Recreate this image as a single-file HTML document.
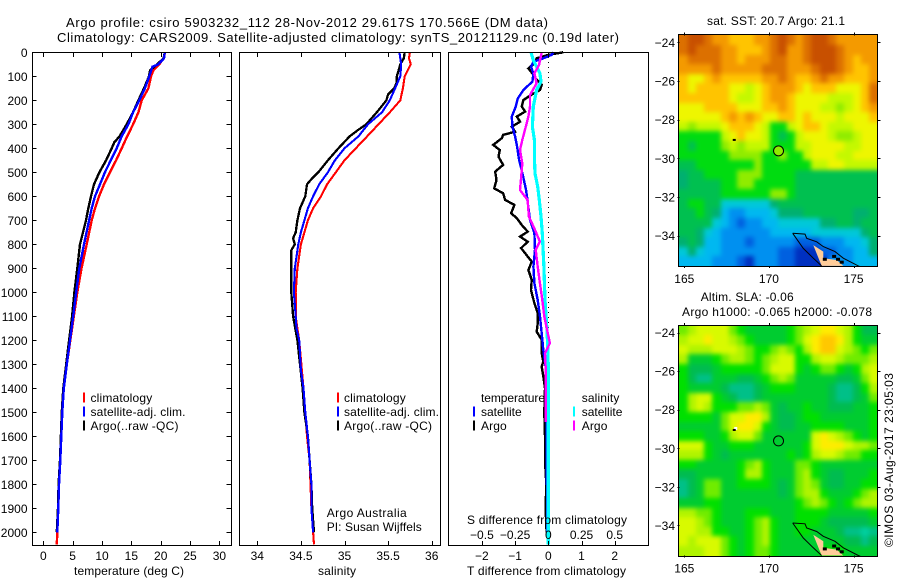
<!DOCTYPE html>
<html lang="en">
<head>
<meta charset="utf-8">
<title>Argo profile csiro 5903232_112</title>
<style>
html,body{margin:0;padding:0;background:#fff;}
svg{display:block;}
text{font-family:"Liberation Sans",sans-serif;font-size:12px;fill:#000;}
</style>
</head>
<body>
<svg id="chart" xmlns="http://www.w3.org/2000/svg" width="900" height="580" viewBox="0 0 900 580">
  <defs>
    <filter id="map-smooth" filterUnits="userSpaceOnUse" x="640" y="0" width="260" height="580" color-interpolation-filters="sRGB">
      <feGaussianBlur stdDeviation="2.4"/>
    </filter>
  </defs>
  <rect width="900" height="580" fill="#fff"/>
  <text x="66" y="27" textLength="482" style="font-size:13px">Argo profile: csiro 5903232_112 28-Nov-2012 29.617S 170.566E (DM data)</text>
  <text x="57" y="42" textLength="562" style="font-size:13px">Climatology: CARS2009. Satellite-adjusted climatology: synTS_20121129.nc (0.19d later)</text>

  <g id="p1"></g>
  <g id="p2"></g>
  <g id="p3"></g>
  <g id="m1"></g>
  <g id="m2"></g>

  <text x="74" y="575" textLength="110">temperature (deg C)</text>
  <text x="318" y="575" textLength="38">salinity</text>
  <text x="467" y="575" textLength="159">T difference from climatology</text>
  <text x="467" y="524" textLength="160">S difference from climatology</text>
  <text x="326.7" y="517" textLength="80">Argo Australia</text>
  <text x="326.7" y="531" textLength="95">PI: Susan Wijffels</text>
  <text x="707" y="25" textLength="138">sat. SST: 20.7 Argo: 21.1</text>
  <text x="700.7" y="301" textLength="93">Altim. SLA: -0.06</text>
  <text x="682" y="316" textLength="190">Argo h1000: -0.065 h2000: -0.078</text>
  <text transform="translate(893 547) rotate(-90)" textLength="174">©IMOS 03-Aug-2017 23:05:03</text>
</svg>
<script>
/* ---------- chart data ---------- */
const depthTicks = [0,100,200,300,400,500,600,700,800,900,1000,1100,1200,1300,1400,1500,1600,1700,1800,1900,2000];
const tempTicks = [0,5,10,15,20,25,30];
const salTicks = [34,34.5,35,35.5,36];
const salTickLabels = ['34','34.5','35','35.5','36'];
const dTTicks = [-2,-1,0,1,2];
const dSTicks = [-0.5,-0.25,0,0.25,0.5];
const dSTickLabels = ['−0.5','−0.25','0','0.25','0.5'];
const dTTickLabels = ['−2','−1','0','1','2'];
const lonTicks = [165,170,175];
const latTicks = [-24,-26,-28,-30,-32,-34];

const tempClimDepth = [0,25,50,75,100,150,200,250,300,350,400,450,500,550,600,650,700,800,900,1000,1100,1200,1300,1400,1500,1600,1700,1800,1900,2000,2050];
const tempClim = [20.73,20.5,19.76,18.75,18.35,17.9,16.76,16.2,15.3,14.3,13.35,12.4,11.35,10.34,9.5,8.8,8.24,7.4,6.5,5.8,5.2,4.6,4.0,3.5,3.24,3.07,2.9,2.67,2.56,2.39,2.3];
const tempSatDepth = [0,25,50,60,100,150,200,250,300,350,400,450,500,550,600,650,700,800,900,1000,1100,1200,1300,1400,1500,1600,1700,1800,1900,2000];
const tempSat = [20.7,20.56,19.6,18.6,18.06,17.3,16.35,15.3,14.5,13.35,12.5,11.5,10.5,9.66,8.8,8.24,7.8,6.93,6.14,5.6,5.1,4.55,4.0,3.5,3.24,3.07,2.9,2.67,2.56,2.39];
const tempArgoDepth = [0,25,50,75,100,150,200,250,300,350,375,400,450,500,550,600,650,700,800,900,1000,1100,1200,1300,1400,1500,1600,1700,1800,1900,2000];
const tempArgo = [20.7,20.5,19.4,18.2,18.0,17.15,16.2,15.3,14.2,13,12.1,11.65,10.7,9.55,8.63,8.13,7.67,7.27,6.25,5.8,5.3,4.9,4.4,3.9,3.4,3.15,3.0,2.85,2.6,2.5,2.3];

const salClimDepth = [0,25,50,100,150,200,250,300,350,400,450,500,550,600,650,700,750,800,900,1000,1100,1150,1200,1400,1500,1600,1700,1800,1900,2000,2050];
const salClim = [35.75,35.74,35.76,35.69,35.67,35.64,35.52,35.39,35.26,35.13,35.0,34.9,34.8,34.73,34.64,34.58,34.54,34.5,34.46,34.44,34.44,34.46,34.48,34.53,34.55,34.57,34.6,34.61,34.62,34.64,34.65];
const salSatDepth = [0,25,50,100,150,200,250,300,350,400,450,500,550,600,650,700,750,800,900,1000,1100,1150,1200,1323,1400,1500,1600,1700,1800,1900,2000];
const salSat = [35.63,35.64,35.65,35.64,35.58,35.52,35.43,35.27,35.16,35.0,34.89,34.81,34.71,34.64,34.58,34.54,34.5,34.47,34.43,34.42,34.44,34.45,34.48,34.5,34.53,34.55,34.58,34.6,34.62,34.62,34.64];
const salArgoDepth = [0,25,50,75,100,125,150,175,200,250,300,325,350,400,450,500,525,550,600,650,700,750,775,800,825,900,1000,1100,1200,1400,1500,1600,1700,1800,1900,2000];
const salArgo = [35.69,35.68,35.64,35.62,35.6,35.6,35.57,35.5,35.48,35.37,35.25,35.15,35.06,34.93,34.81,34.7,34.63,34.57,34.55,34.49,34.46,34.44,34.41,34.43,34.39,34.39,34.39,34.41,34.46,34.52,34.54,34.58,34.6,34.62,34.63,34.65];

const dTArgoDepth = [0,11,25,46,67,88,115,136,157,178,199,226,247,268,289,310,331,344,358,386,407,435,469,497,532,567,587,615,636,671,691,719,747,768,789,816,837,872,907,948,990,1046,1087,1129,1164,1198,1254,1289,1310,1350,1400,1500,1600,1700,1800,1900,2000];
const dTArgo = [0.45,0,-0.35,-0.42,-0.6,-0.48,-0.35,-0.2,-0.25,-0.52,-0.75,-0.8,-0.7,-0.95,-0.85,-1.1,-1,-1.36,-1.4,-1.66,-1.46,-1.5,-1.36,-1.6,-1.56,-1.63,-1.36,-1.3,-1.02,-1.12,-0.95,-0.8,-0.62,-0.85,-0.62,-0.82,-0.7,-0.5,-0.6,-0.5,-0.52,-0.42,-0.32,-0.32,-0.35,-0.2,-0.2,-0.15,-0.2,-0.15,-0.1,-0.12,-0.1,-0.1,-0.06,-0.08,-0.05];
const dTSatDepth = [0,11,25,39,60,88,122,157,192,226,268,310,351,393,449,504,574,615,698,754,823,893,962,1032,1101,1171,1240,1310,1400,1600,2000];
const dTSat = [0.15,0.1,-0.15,-0.45,-0.52,-0.45,-0.48,-0.75,-0.92,-0.98,-1.1,-1.08,-1,-0.94,-0.88,-0.78,-0.67,-0.63,-0.55,-0.42,-0.4,-0.45,-0.42,-0.32,-0.25,-0.2,-0.15,-0.08,-0.06,-0.05,-0.03];
const dSArgoDepth = [0,53,88,129,178,226,268,324,365,407,463,532,574,615,684,740,789,823,893,962,1032,1101,1212,1254,1310,1500,1540];
const dSArgo = [-0.05,-0.07,-0.105,-0.088,-0.138,-0.138,-0.15,-0.176,-0.196,-0.213,-0.196,-0.206,-0.213,-0.156,-0.146,-0.1,-0.063,-0.095,-0.08,-0.063,-0.045,-0.03,0.012,-0.025,-0.02,-0.02,-0.02];
const dSSatDepth = [0,32,60,88,122,157,226,310,365,435,504,560,615,684,754,893,1032,1171,1310,1600,2050];
const dSSat = [-0.13,-0.113,-0.088,-0.063,-0.055,-0.088,-0.113,-0.12,-0.105,-0.105,-0.1,-0.08,-0.068,-0.055,-0.045,-0.033,-0.025,-0.008,0,0,0];

const sstPalette = ['#0030c0','#0060e0','#0090f0','#00b8f0','#00c8d8','#00b070','#00c050','#00dc10','#90ec00','#c4f800','#eef600','#ffc400','#f49a00','#dc7000','#c85000'];
const sstGrid = [
[13,14,14,13,12,12,11,11,11,12,12,13,14,13,12,13,14,14,13,12,12,12,12,12],
[13,14,13,13,13,12,12,11,11,11,12,13,14,12,12,13,14,14,14,13,12,12,12,12],
[12,13,13,13,13,12,12,11,12,12,12,13,13,12,12,13,14,14,14,13,12,11,12,12],
[12,12,12,12,13,12,12,12,12,12,13,13,13,12,12,12,13,14,14,13,12,11,11,12],
[11,10,10,11,12,11,11,11,11,11,12,12,13,12,11,11,12,13,12,12,11,11,11,12],
[11,10,11,11,11,11,10,10,9,10,11,12,12,12,11,10,11,11,11,10,10,10,11,13],
[11,11,11,11,11,11,10,9,9,10,11,12,12,11,10,10,10,10,9,9,9,10,11,13],
[10,10,10,11,11,11,11,10,10,10,11,11,12,11,10,10,10,9,9,8,9,10,11,12],
[10,10,10,10,10,11,12,11,12,11,10,10,11,11,10,11,10,10,10,9,10,10,10,11],
[9,8,9,9,9,10,11,11,11,10,9,7,7,9,10,11,11,10,9,9,9,10,10,10],
[7,7,7,7,7,9,10,11,10,10,9,7,6,7,9,10,10,10,9,8,8,9,10,10],
[7,6,7,7,7,8,9,8,9,9,9,7,7,7,9,9,10,10,10,10,9,9,10,10],
[7,7,7,7,7,7,8,8,8,8,7,7,8,7,7,9,10,10,10,9,9,10,10,10],
[6,6,7,7,7,7,7,7,7,8,7,7,7,7,7,7,9,9,10,10,9,9,9,9],
[5,6,6,7,7,7,7,8,8,8,7,7,7,7,6,6,6,6,6,6,6,6,6,6],
[5,6,6,6,6,7,7,8,8,7,7,7,7,7,6,6,6,6,6,6,6,6,6,6],
[6,6,6,6,6,7,7,7,7,7,7,8,8,7,6,6,6,6,6,6,6,6,6,6],
[6,7,7,6,6,4,4,4,4,4,4,5,6,6,6,6,6,6,6,6,6,6,6,6],
[6,6,7,6,5,3,2,2,3,3,3,4,5,5,5,6,6,6,6,6,6,5,5,6],
[6,6,6,6,4,3,2,1,2,2,3,3,4,4,4,4,4,5,5,6,6,5,6,6],
[6,6,5,4,3,2,2,2,2,2,2,3,3,3,3,3,4,4,4,4,4,4,5,6],
[5,6,5,3,3,2,2,2,1,2,2,2,2,2,1,1,1,2,2,2,3,3,4,5],
[4,5,4,3,3,2,2,2,2,2,2,2,1,1,0,0,0,1,1,2,2,3,3,5],
[3,3,3,3,2,2,2,1,0,2,2,2,1,1,0,0,0,0,2,2,2,3,3,3]
];
const slaPalette = ['#00d0a0','#00c088','#00bc50','#00cc30','#00e000','#70ec00','#b0f400','#d8fa00','#ffec00','#ffc800'];
const slaGrid = [
[5,6,7,7,7,7,5,4,3,3,3,3,3,4,5,6,7,8,8,7,6,4,2,2],
[6,7,7,8,7,7,6,5,4,3,3,3,3,4,5,7,8,9,9,8,6,4,3,3],
[7,6,6,6,7,7,7,6,5,4,4,5,6,5,4,6,8,9,9,7,6,5,4,5],
[6,3,3,3,4,5,6,6,5,4,5,6,7,7,4,4,6,7,7,6,5,5,5,6],
[4,2,2,2,3,4,4,4,4,4,5,7,7,7,4,3,4,5,5,4,3,4,6,7],
[4,2,1,1,3,3,3,2,2,3,4,5,6,5,3,3,3,3,3,2,2,3,5,7],
[4,3,3,3,3,2,1,1,1,2,3,4,4,4,3,3,3,3,2,1,1,2,4,6],
[4,6,7,7,4,3,2,1,1,2,3,3,3,3,3,3,3,3,2,1,1,2,3,5],
[4,6,7,6,4,4,4,5,5,6,5,3,2,3,3,4,3,3,2,2,2,3,3,4],
[4,4,4,4,3,5,7,7,8,8,6,3,2,2,3,4,4,3,3,3,3,3,3,4],
[3,3,3,3,3,5,7,8,8,7,4,3,2,2,3,3,4,4,4,4,3,3,3,4],
[4,4,4,3,3,4,6,7,7,5,3,3,3,3,3,3,7,8,7,6,5,4,3,4],
[7,7,7,4,3,3,4,4,4,3,3,3,3,3,3,4,7,8,8,8,7,6,6,5],
[6,6,6,4,3,2,3,3,3,3,3,3,3,4,3,4,6,7,7,6,5,5,4,4],
[4,4,3,3,3,3,3,4,5,6,4,3,3,3,5,5,4,3,3,3,3,3,3,3],
[2,2,3,3,3,3,3,4,6,6,4,3,3,3,5,6,4,3,2,2,3,3,3,4],
[1,2,3,5,5,3,3,4,4,4,4,3,2,3,5,6,5,3,2,2,3,3,4,4],
[1,2,3,5,5,3,3,3,3,3,3,3,2,3,5,6,6,4,3,3,3,4,5,6],
[3,3,3,4,4,3,3,3,3,3,3,3,3,3,4,5,6,5,4,3,4,5,6,6],
[6,6,5,5,4,3,3,3,4,4,4,3,3,3,4,4,4,4,3,3,3,3,3,4],
[7,7,6,5,4,3,3,3,4,5,6,4,3,3,4,4,4,3,2,2,2,2,2,3],
[7,7,6,6,4,4,3,3,4,5,6,4,3,3,4,4,3,3,3,2,1,1,0,1],
[7,6,7,7,7,5,4,3,4,5,6,4,3,3,3,3,3,3,3,3,2,2,1,2],
[6,6,6,7,7,5,4,3,4,5,5,4,3,3,3,3,3,4,4,4,3,3,3,3]
];
const coastOuterLon = [171.4,172.13,172.23,172.82,173.21,173.9,174.39,175.28,175.9];
const coastOuterLat = [-33.88,-33.92,-34.14,-34.32,-34.57,-34.83,-35.17,-35.57,-35.8];
const coastInnerLon = [171.4,172.03,172.62,173.11];
const coastInnerLat = [-33.88,-34.66,-35.17,-35.57];
const landLon = [172.62,173.21,173.21,174,174.39,173.11];
const landLat = [-34.49,-34.83,-35.17,-35.26,-35.57,-35.57];
const speckLon = [173.3,173.85,174.08,174.3];
const speckLat = [-35.2,-35.05,-35.2,-35.35];
const profileLon = 170.566;
const profileLat = -29.617;
const islandLon = 167.95;
const islandLat = -29.05;

/* ---------- axis functions ---------- */
const dy = d => 52.3 + 0.24 * d;
const tx = t => 43.3 + 5.87 * t;
const sx = s => 257.3 + 87.2 * (s - 34);
const dTx = v => 548.3 + 33.2 * v;
const dSx = v => 548.3 + 132.8 * v;
const lonMin = 164.705, lonMax = 176.4;
const latTop = -23.64, latBottom = -35.57;
const lonX = lon => 684.3 + 16.93 * (lon - 165);
const sstLatY = lat => 42.3 - 19.33 * (lat + 24);
const slaLatY = lat => 332.7 - 19.26 * (lat + 24);

const NS = 'http://www.w3.org/2000/svg';
function make(parent, tag, attrs, txt) {
  const el = document.createElementNS(NS, tag);
  for (const k in attrs) el.setAttribute(k, attrs[k]);
  if (txt !== undefined) el.textContent = txt;
  parent.appendChild(el);
  return el;
}
function pts(xs, ys, fx, fy) {
  return xs.map((v, i) => fx(v).toFixed(1) + ',' + fy(ys[i]).toFixed(1)).join(' ');
}
function series(parent, vals, depths, fx, color, width, name) {
  const el = make(parent, 'polyline', {
    points: pts(vals, depths, fx, dy), fill: 'none', stroke: color,
    'stroke-width': width, 'stroke-linejoin': 'miter', 'shape-rendering': 'crispEdges'
  });
  
  
}
function frame(parent, x0, x1) {
  const el = make(parent, 'rect', { x: x0, y: 52.5, width: x1 - x0, height: 493, fill: 'none', stroke: '#000', 'stroke-width': 1, 'shape-rendering': 'crispEdges' });
  
  
}
function tickMark(parent, x1, y1, x2, y2) {
  const el = make(parent, 'line', { x1, y1, x2, y2, stroke: '#000', 'stroke-width': 1, 'shape-rendering': 'crispEdges' });
  
  
}
function label(parent, x, y, anchor, txt, name) {
  const el = make(parent, 'text', { x, y, 'text-anchor': anchor }, txt);
  
  
  return el;
}
function legendRow(parent, tickX, textX, baseline, color, txt, width) {
  const bar = make(parent, 'rect', { x: tickX - 1, y: baseline - 9.5, width: 2, height: 10, fill: color });
  
  
  const t = label(parent, textX, baseline, 'start', txt, 'legend-entry');
  t.setAttribute('textLength', width);
}

/* ---------- temperature panel ---------- */
const p1 = document.getElementById('p1');
series(p1, tempClim, tempClimDepth, tx, '#ff0000', 2.4, 'temperature-climatology-line');
series(p1, tempArgo, tempArgoDepth, tx, '#000000', 2.4, 'temperature-argo-line');
series(p1, tempSat, tempSatDepth, tx, '#0000ff', 2.4, 'temperature-satellite-line');
frame(p1, 32.5, 231.5);
tempTicks.forEach(t => {
  tickMark(p1, Math.round(tx(t)) + .5, 52.5, Math.round(tx(t)) + .5, 57);
  tickMark(p1, Math.round(tx(t)) + .5, 545.5, Math.round(tx(t)) + .5, 541);
  label(p1, tx(t), 560, 'middle', String(t), 'temperature-tick-label');
});
depthTicks.forEach(d => {
  tickMark(p1, 231.5, Math.round(dy(d)) + .5, 226.5, Math.round(dy(d)) + .5);
  tickMark(p1, 32.5, Math.round(dy(d)) + .5, 36.5, Math.round(dy(d)) + .5);
  label(p1, 27.5, dy(d) + 4.5, 'end', String(d), 'depth-tick-label');
});
legendRow(p1, 84, 90.5, 402, '#ff0000', 'climatology', 61.7);
legendRow(p1, 84, 90.5, 416, '#0000ff', 'satellite-adj. clim.', 95);
legendRow(p1, 84, 90.5, 430, '#000000', 'Argo(..raw -QC)', 88);

/* ---------- salinity panel ---------- */
const p2 = document.getElementById('p2');
series(p2, salClim, salClimDepth, sx, '#ff0000', 2.1, 'salinity-climatology-line');
series(p2, salArgo, salArgoDepth, sx, '#000000', 2.3, 'salinity-argo-line');
series(p2, salSat, salSatDepth, sx, '#0000ff', 2.1, 'salinity-satellite-line');
frame(p2, 239.5, 440.5);
salTicks.forEach((s, i) => {
  tickMark(p2, Math.round(sx(s)) + .5, 52.5, Math.round(sx(s)) + .5, 57);
  tickMark(p2, Math.round(sx(s)) + .5, 545.5, Math.round(sx(s)) + .5, 541);
  label(p2, sx(s), 560, 'middle', salTickLabels[i], 'salinity-tick-label');
});
legendRow(p2, 338, 344, 402, '#ff0000', 'climatology', 61.7);
legendRow(p2, 338, 344, 416, '#0000ff', 'satellite-adj. clim.', 95);
legendRow(p2, 338, 344, 430, '#000000', 'Argo(..raw -QC)', 88);

/* ---------- difference panel ---------- */
const p3 = document.getElementById('p3');
const zeroLine = make(p3, 'line', { x1: 548.5, y1: 52, x2: 548.5, y2: 545, stroke: '#000', 'stroke-width': 1, 'stroke-dasharray': '1 4', 'shape-rendering': 'crispEdges' });


series(p3, dTArgo, dTArgoDepth, dTx, '#000000', 2.4, 't-difference-argo-line');
series(p3, dTSat, dTSatDepth, dTx, '#0000ff', 2.4, 't-difference-satellite-line');
series(p3, dSSat, dSSatDepth, dSx, '#00ffff', 3.2, 's-difference-satellite-line');
series(p3, dSArgo, dSArgoDepth, dSx, '#ff00ff', 2.4, 's-difference-argo-line');
frame(p3, 448.5, 648.5);
dTTicks.forEach((v, i) => {
  tickMark(p3, Math.round(dTx(v)) + .5, 52.5, Math.round(dTx(v)) + .5, 57);
  tickMark(p3, Math.round(dTx(v)) + .5, 545.5, Math.round(dTx(v)) + .5, 541);
  label(p3, dTx(v), 560, 'middle', dTTickLabels[i], 't-difference-tick-label');
});
dSTicks.forEach((v, i) => {
  label(p3, dSx(v), 539, 'middle', dSTickLabels[i], 's-difference-tick-label');
});
label(p3, 481, 402, 'start', 'temperature', 'legend-heading-temperature').setAttribute('textLength', 64);
legendRow(p3, 474, 481, 416, '#0000ff', 'satellite', 40.7);
legendRow(p3, 474, 481, 430, '#000000', 'Argo', 25.7);
label(p3, 581.7, 402, 'start', 'salinity', 'legend-heading-salinity').setAttribute('textLength', 37.7);
legendRow(p3, 574, 581.7, 416, '#00ffff', 'satellite', 40.7);
legendRow(p3, 574, 581.7, 430, '#ff00ff', 'Argo', 25.7);

/* ---------- maps ---------- */
function drawMap(parentId, grid, palette, latY, prefix) {
  const g = document.getElementById(parentId);
  const rows = grid.length, cols = grid[0].length;
  const lonStep = (lonMax - lonMin) / cols, latStep = (latTop - latBottom) / rows;
  const yTop = latY(latTop), yBot = latY(latBottom), xL = lonX(lonMin), xR = lonX(lonMax);
  const clipId = prefix + '-clip';
  const defs = make(g, 'clipPath', { id: clipId });
  make(defs, 'rect', { x: Math.round(xL), y: Math.round(yTop), width: Math.round(xR - xL), height: Math.round(yBot - yTop) });
  const clipped = make(g, 'g', { 'clip-path': 'url(#' + clipId + ')' });
  
  
  const field = make(clipped, 'g', { filter: 'url(#map-smooth)' });
  
  
  grid.forEach((row, j) => {
    row.forEach((v, i) => {
      let x0 = Math.round(lonX(lonMin + i * lonStep)), x1 = Math.round(lonX(lonMin + (i + 1) * lonStep));
      let y0 = Math.round(latY(latTop - j * latStep)), y1 = Math.round(latY(latTop - (j + 1) * latStep));
      if (i === 0) x0 -= 14;
      if (i === cols - 1) x1 += 14;
      if (j === 0) y0 -= 14;
      if (j === rows - 1) y1 += 14;
      const cell = make(field, 'rect', { x: x0, y: y0, width: x1 - x0, height: y1 - y0, fill: palette[v], 'shape-rendering': 'crispEdges' });
      
      
    });
  });
  const land = make(clipped, 'polygon', { points: pts(landLon, landLat, lonX, latY), fill: '#ffcc99' });
  
  
  speckLon.forEach((lon, i) => {
    const speck = make(clipped, 'rect', { x: lonX(lon) - 2, y: latY(speckLat[i]) - 1, width: 4, height: 3, fill: '#000' });
    
    
  });
  const outer = make(clipped, 'polyline', { points: pts(coastOuterLon, coastOuterLat, lonX, latY), fill: 'none', stroke: '#000', 'stroke-width': 1 });
  
  
  const inner = make(clipped, 'polyline', { points: pts(coastInnerLon, coastInnerLat, lonX, latY), fill: 'none', stroke: '#000', 'stroke-width': 1 });
  
  
  if (prefix === 'sla') {
    const glint = make(g, 'rect', { x: lonX(islandLon), y: latY(islandLat) - 3, width: 3, height: 3, fill: '#fff' });
    
    
  }
  const island = make(g, 'rect', { x: lonX(islandLon) - 1.5, y: latY(islandLat) - 1, width: 3, height: 2, fill: '#000' });
  
  
  const marker = make(g, 'circle', { cx: lonX(profileLon), cy: latY(profileLat), r: 5, fill: 'none', stroke: '#000', 'stroke-width': 1 });
  
  
  if (prefix === 'sst') {
    marker.setAttribute('fill', '#90ec00');
  }
  const fr = make(g, 'rect', { x: Math.round(xL) - .5, y: Math.round(yTop) - .5, width: Math.round(xR - xL) + 1, height: Math.round(yBot - yTop) + 1, fill: 'none', stroke: '#000', 'stroke-width': 1, 'shape-rendering': 'crispEdges' });
  
  
  lonTicks.forEach(lon => {
    const x = Math.round(lonX(lon)) + .5;
    tickMark(g, x, yTop - 3, x, yTop);
    tickMark(g, x, yBot, x, yBot + 2);
    label(g, lonX(lon), yBot + 17, 'middle', String(lon), 'longitude-tick-label');
  });
  latTicks.forEach(lat => {
    const y = Math.round(latY(lat)) + .5;
    tickMark(g, xL - 2, y, xL, y);
    tickMark(g, xR, y, xR + 3, y);
    label(g, 675, latY(lat) + 4.5, 'end', '−' + Math.abs(lat), 'latitude-tick-label');
  });
}
drawMap('m1', sstGrid, sstPalette, sstLatY, 'sst');
drawMap('m2', slaGrid, slaPalette, slaLatY, 'sla');
</script>
</body>
</html>
